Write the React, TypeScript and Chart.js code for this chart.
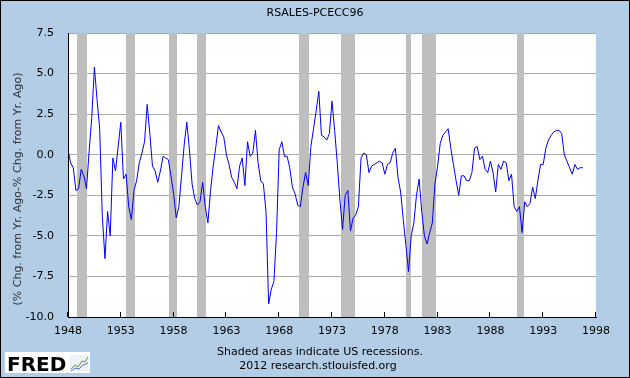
import React, { useEffect, useRef } from 'react';
import { Chart, registerables } from 'chart.js';

Chart.register(...registerables);

const chartTitle = 'RSALES-PCECC96';
const yAxisTitle = '(% Chg. from Yr. Ago-% Chg. from Yr. Ago)';
const footerLines = ['Shaded areas indicate US recessions.', '2012 research.stlouisfed.org'];
const logoText = 'FRED';

// quarterly observations starting 1948 Q1
const firstYear = 1948;
const values = [
  0.3, -0.5, -0.8, -2.2,
  -2.1, -0.9, -1.3, -2.1,
  0.2, 2.3, 5.4, 3.4,
  1.6, -3.8, -6.4, -3.5,
  -5.0, -0.2, -1.0, 0.5,
  2.0, -1.5, -1.2, -3.2,
  -4.0, -2.2, -1.6, -0.5,
  0.1, 0.8, 3.1, 1.3,
  -0.7, -1.0, -1.7, -1.0,
  -0.1, -0.2, -0.3, -1.3,
  -2.4, -3.9, -3.2, -1.3,
  0.6, 2.0, 0.3, -1.8,
  -2.7, -3.1, -2.9, -1.7,
  -3.2, -4.2, -2.2, -0.7,
  0.5, 1.8, 1.4, 1.1,
  0.0, -0.6, -1.4, -1.7,
  -2.1, -0.7, -0.2, -1.9,
  0.8, -0.1, 0.1, 1.5,
  -0.5, -1.6, -1.8, -3.5,
  -9.2, -8.3, -7.8, -4.8,
  0.3, 0.8, -0.1, -0.1,
  -0.8, -2.0, -2.4, -3.1,
  -3.2, -2.0, -1.1, -1.9,
  0.5, 1.6, 2.7, 3.9,
  1.2, 1.1, 0.9, 1.3,
  3.3, 1.5, -0.5, -2.8,
  -4.6, -2.5, -2.2, -4.7,
  -3.9, -3.7, -3.2, -0.2,
  0.1, 0.0, -1.1, -0.7,
  -0.6, -0.5, -0.4, -0.5,
  -1.2, -0.6, -0.5, 0.1,
  0.4, -1.4, -2.3, -4.0,
  -5.6, -7.2, -5.0, -4.2,
  -2.5, -1.5, -3.5, -5.0,
  -5.5, -4.8, -4.2, -1.8,
  -0.7, 0.7, 1.2, 1.4,
  1.6, 0.4, -0.6, -1.6,
  -2.5, -1.3, -1.3, -1.6,
  -1.6, -1.1, 0.4, 0.5,
  -0.3, -0.1, -0.9, -1.1,
  -0.4, -1.1, -2.3, -0.6,
  -0.9, -0.4, -0.5, -1.6,
  -1.2, -3.2, -3.5, -3.2,
  -4.8, -2.9, -3.2, -3.0,
  -2.0, -2.7, -1.6, -0.6,
  -0.6, 0.4, 0.9, 1.2,
  1.4, 1.5, 1.5, 1.3,
  0.0, -0.4, -0.8, -1.2,
  -0.6, -0.9, -0.8, -0.8,
];

const xTicks = [1948, 1953, 1958, 1963, 1968, 1973, 1978, 1983, 1988, 1993, 1998];
const yTicks = [-10, -7.5, -5, -2.5, 0, 2.5, 5, 7.5];

const recessionStarts = [1948.83, 1953.5, 1957.58, 1960.25, 1969.92, 1973.83, 1980.0, 1981.5, 1990.5];
const recessionEnds = [1949.79, 1954.38, 1958.29, 1961.08, 1970.83, 1975.17, 1980.5, 1982.83, 1991.17];

const BG = '#b3cde6';
const FONT = '"DejaVu Sans", Verdana, sans-serif';

const decorPlugin = {
  id: 'fredDecor',
  beforeDraw(chart: any) {
    const { ctx, width, height, chartArea: a } = chart;
    ctx.save();
    ctx.fillStyle = BG;
    ctx.fillRect(0, 0, width, height);
    ctx.fillStyle = '#ffffff';
    ctx.fillRect(a.left, a.top, a.right - a.left, a.bottom - a.top);
    ctx.restore();
  },
  beforeDatasetsDraw(chart: any) {
    const { ctx, chartArea: a } = chart;
    const xs = chart.scales.x;
    ctx.save();
    ctx.fillStyle = '#bebebe';
    recessionStarts.forEach((s, i) => {
      const x0 = Math.round(xs.getPixelForValue(s));
      const x1 = Math.round(xs.getPixelForValue(recessionEnds[i]));
      ctx.fillRect(x0, a.top, x1 - x0, a.bottom - a.top);
    });
    ctx.restore();
  },
  afterDraw(chart: any) {
    const { ctx, width, height, chartArea: a } = chart;
    const xs = chart.scales.x;
    ctx.save();
    // axis lines
    ctx.strokeStyle = '#000';
    ctx.lineWidth = 1;
    ctx.beginPath();
    ctx.moveTo(a.left + 0.5, a.top);
    ctx.lineTo(a.left + 0.5, a.bottom + 0.5);
    ctx.lineTo(a.right, a.bottom + 0.5);
    ctx.stroke();
    // inner tick marks
    ctx.beginPath();
    xTicks.forEach((v) => {
      const px = Math.round(xs.getPixelForValue(v)) - 0.5;
      ctx.moveTo(px, a.bottom);
      ctx.lineTo(px, a.bottom - 5);
    });
    ctx.stroke();

    // title
    ctx.fillStyle = '#000';
    ctx.font = `11px ${FONT}`;
    ctx.textAlign = 'center';
    ctx.textBaseline = 'middle';
    ctx.fillText(chartTitle, width / 2, 13);

    // footer
    ctx.fillText(footerLines[0], 320, 352);
    ctx.fillText(footerLines[1], 318, 366);

    // y axis title
    ctx.save();
    ctx.translate(18, height / 2);
    ctx.rotate(-Math.PI / 2);
    ctx.fillStyle = '#333';
    ctx.fillText(yAxisTitle, 0, 0);
    ctx.restore();

    // logo
    ctx.fillStyle = '#ffffff';
    ctx.fillRect(5, 352, 85, 21);
    ctx.fillStyle = '#000';
    ctx.font = `bold 20px ${FONT}`;
    ctx.textAlign = 'left';
    ctx.textBaseline = 'alphabetic';
    ctx.fillText(logoText, 7, 371);
    ctx.fillStyle = '#eef2f6';
    ctx.fillRect(70, 355, 19, 16);
    ctx.lineWidth = 1;
    ctx.strokeStyle = '#5aa02c';
    ctx.beginPath();
    ctx.moveTo(71, 369); ctx.lineTo(75, 365); ctx.lineTo(78, 367); ctx.lineTo(82, 361); ctx.lineTo(85, 362); ctx.lineTo(88, 357);
    ctx.stroke();
    ctx.strokeStyle = '#4a78c8';
    ctx.beginPath();
    ctx.moveTo(71, 371); ctx.lineTo(75, 368); ctx.lineTo(79, 369); ctx.lineTo(83, 365); ctx.lineTo(88, 363);
    ctx.stroke();

    // outer frame
    ctx.strokeStyle = '#000';
    ctx.strokeRect(0.5, 0.5, width - 1, height - 1);
    ctx.restore();
  },
};

export default function App() {
  const ref = useRef<HTMLCanvasElement | null>(null);

  useEffect(() => {
    if (!ref.current) return;
    const points = values.map((v, i) => ({ x: firstYear + i / 4, y: v }));
    const chart = new Chart(ref.current, {
      type: 'line',
      data: {
        datasets: [
          {
            data: points,
            borderColor: '#0000ff',
            borderWidth: 1,
            pointRadius: 0,
            tension: 0,
            fill: false,
          },
        ],
      },
      options: {
        animation: false,
        responsive: false,
        devicePixelRatio: 1,
        layout: { padding: { left: 0, top: 33, right: 34, bottom: 0 } },
        plugins: { legend: { display: false }, tooltip: { enabled: false }, title: { display: false } },
        scales: {
          x: {
            type: 'linear',
            min: 1948,
            max: 1998,
            afterBuildTicks: (s: any) => {
              s.ticks = xTicks.map((v) => ({ value: v }));
            },
            afterFit: (s: any) => {
              s.height = 61;
            },
            ticks: {
              autoSkip: false,
              maxRotation: 0,
              padding: 8,
              color: '#000',
              font: { family: FONT, size: 11 },
              callback: (v: any) => String(v),
            },
            grid: { drawOnChartArea: false, drawTicks: false },
            border: { display: true, color: '#000' },
          },
          y: {
            min: -10,
            max: 7.5,
            afterBuildTicks: (s: any) => {
              s.ticks = yTicks.map((v) => ({ value: v }));
            },
            afterFit: (s: any) => {
              s.width = 68;
            },
            ticks: {
              padding: 14,
              color: '#000',
              font: { family: FONT, size: 11 },
              callback: (v: any) => Number(v).toFixed(1),
            },
            grid: { color: '#aaaaaa', drawTicks: false },
            border: { display: true, color: '#000' },
          },
        },
      },
      plugins: [decorPlugin],
    });
    return () => chart.destroy();
  }, []);

  return (
    <div style={{ position: 'absolute', left: 0, top: 0, width: 630, height: 378 }}>
      <canvas ref={ref} width={630} height={378} style={{ display: 'block', width: 630, height: 378 }} />
    </div>
  );
}
